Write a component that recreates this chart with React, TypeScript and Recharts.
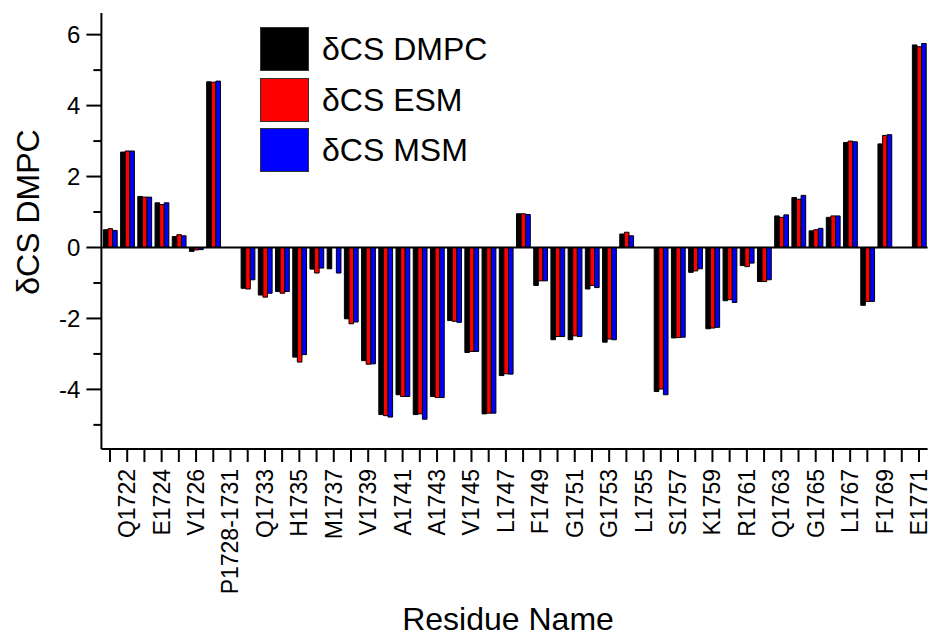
import React from 'react';
import { BarChart, Bar, XAxis, YAxis, ReferenceLine, Legend } from 'recharts';

// residues along the x axis (only odd positions get a printed label)
const residues = [
  '1721', 'Q1722', '1723', 'E1724', '1725', 'V1726', '1727', 'P1728-1731',
  '1732', 'Q1733', '1734', 'H1735', '1736', 'M1737', '1738', 'V1739',
  '1740', 'A1741', '1742', 'A1743', '1744', 'V1745', '1746', 'L1747',
  '1748', 'F1749', '1750', 'G1751', '1752', 'G1753', '1754', 'L1755',
  '1756', 'S1757', '1758', 'K1759', '1760', 'R1761', '1762', 'Q1763',
  '1764', 'G1765', '1766', 'L1767', '1768', 'F1769', '1770', 'E1771',
];

const dmpc = [
  0.5, 2.69, 1.44, 1.26, 0.31, -0.11, 4.67, null,
  -1.15, -1.34, -1.24, -3.09, -0.61, -0.6, -2.01, -3.19,
  -4.71, -4.15, -4.71, -4.2, -2.06, -2.96, -4.69, -3.61,
  0.95, -1.07, -2.6, -2.6, -1.17, -2.67, 0.38, null,
  -4.06, -2.55, -0.7, -2.29, -1.5, -0.51, -0.96, 0.89,
  1.41, 0.47, 0.85, 2.96, -1.63, 2.92, null, 5.71,
];

const esm = [
  0.53, 2.72, 1.42, 1.21, 0.36, -0.07, 4.66, null,
  -1.17, -1.4, -1.29, -3.23, -0.72, null, -2.15, -3.29,
  -4.74, -4.2, -4.69, -4.23, -2.08, -2.93, -4.67, -3.56,
  0.95, -0.94, -2.51, -2.49, -1.07, -2.58, 0.43, null,
  -3.99, -2.54, -0.66, -2.27, -1.47, -0.54, -0.96, 0.85,
  1.36, 0.5, 0.89, 3.0, -1.52, 3.16, null, 5.66,
];

const msm = [
  0.48, 2.72, 1.42, 1.26, 0.33, -0.06, 4.69, null,
  -0.91, -1.29, -1.24, -3.02, -0.58, -0.72, -2.1, -3.28,
  -4.78, -4.2, -4.84, -4.23, -2.11, -2.93, -4.67, -3.57,
  0.93, -0.94, -2.51, -2.51, -1.13, -2.6, 0.33, null,
  -4.15, -2.53, -0.6, -2.25, -1.55, -0.44, -0.91, 0.92,
  1.47, 0.54, 0.89, 2.98, -1.52, 3.18, null, 5.75,
];

const yTicks = [-5, -4, -3, -2, -1, 0, 1, 2, 3, 4, 5, 6];

const FONT = '"Liberation Sans", Arial, sans-serif';
const YAXIS_W = 101.4;

const data = residues.map((name, i) => ({
  name,
  dmpc: dmpc[i],
  esm: esm[i],
  msm: msm[i],
}));

// long ticks + labels on even values, short unlabeled ticks on odd ones
function YTick(props: any) {
  const { y, payload } = props;
  const major = payload.value % 2 === 0;
  const ax = YAXIS_W;
  return (
    <g>
      <line x1={ax - (major ? 15 : 8)} x2={ax} y1={y} y2={y} stroke="#000" strokeWidth={2} />
      {major && (
        <text x={ax - 21} y={y} textAnchor="end" dominantBaseline="central"
          fontSize={24} fontFamily={FONT} fill="#000">
          {payload.value}
        </text>
      )}
    </g>
  );
}

function XTick(props: any) {
  const { x, y, payload, index } = props;
  if (index % 2 === 0) return null;
  return (
    <text x={x} y={y} transform={`rotate(-90, ${x}, ${y})`} textAnchor="end"
      dominantBaseline="central" fontSize={23} fontFamily={FONT} fill="#000">
      {payload.value}
    </text>
  );
}

function LegendBox(props: any) {
  const { payload } = props;
  return (
    <div style={{ fontFamily: FONT }}>
      {payload.map((p: any) => (
        <div key={p.value} style={{ display: 'flex', alignItems: 'center', height: 44, marginBottom: 6.5 }}>
          <div style={{ width: 47, height: 42, background: p.color, border: '1px solid #333' }} />
          <span style={{ marginLeft: 13, fontSize: 32, color: '#000', lineHeight: '44px' }}>{p.value}</span>
        </div>
      ))}
    </div>
  );
}

export default function App() {
  return (
    <div style={{ position: 'absolute', left: 0, top: 0, width: 933, height: 638, background: '#fff' }}>
      <BarChart
        width={933}
        height={638}
        data={data}
        margin={{ top: 13, right: 5.4, left: 0, bottom: 0 }}
        barSize={4.6}
        barGap={0}
      >
        <XAxis
          dataKey="name"
          interval={0}
          height={189}
          tickSize={13}
          tickMargin={7}
          tick={<XTick />}
          axisLine={{ stroke: '#000', strokeWidth: 2 }}
          tickLine={{ stroke: '#000', strokeWidth: 2 }}
          label={{
            content: () => (
              <text x={508} y={630} textAnchor="middle"
                fontSize={32} fontFamily={FONT} fill="#000">
                Residue Name
              </text>
            ),
          }}
        />
        <YAxis
          width={YAXIS_W}
          type="number"
          domain={[-5.68, 6.61]}
          allowDataOverflow
          ticks={yTicks}
          interval={0}
          tickSize={0}
          tickMargin={0}
          tickLine={false}
          tick={<YTick />}
          axisLine={{ stroke: '#000', strokeWidth: 2 }}
          label={{
            content: () => (
              <text x={28} y={212} transform="rotate(-90, 28, 212)" textAnchor="middle"
                dominantBaseline="central" fontSize={32} fontFamily={FONT} fill="#000">
                δCS DMPC
              </text>
            ),
          }}
        />
        <Legend
          layout="vertical"
          align="center"
          verticalAlign="middle"
          content={<LegendBox />}
          wrapperStyle={{ left: 260, top: 27, width: 'auto' }}
        />
        <Bar dataKey="dmpc" name="δCS DMPC" fill="#000000" stroke="#000" strokeWidth={1} isAnimationActive={false} />
        <Bar dataKey="esm" name="δCS ESM" fill="#ff0000" stroke="#000" strokeWidth={1} isAnimationActive={false} />
        <Bar dataKey="msm" name="δCS MSM" fill="#0000ff" stroke="#000" strokeWidth={1} isAnimationActive={false} />
        <ReferenceLine y={0} stroke="#000" strokeWidth={2} />
      </BarChart>
    </div>
  );
}
